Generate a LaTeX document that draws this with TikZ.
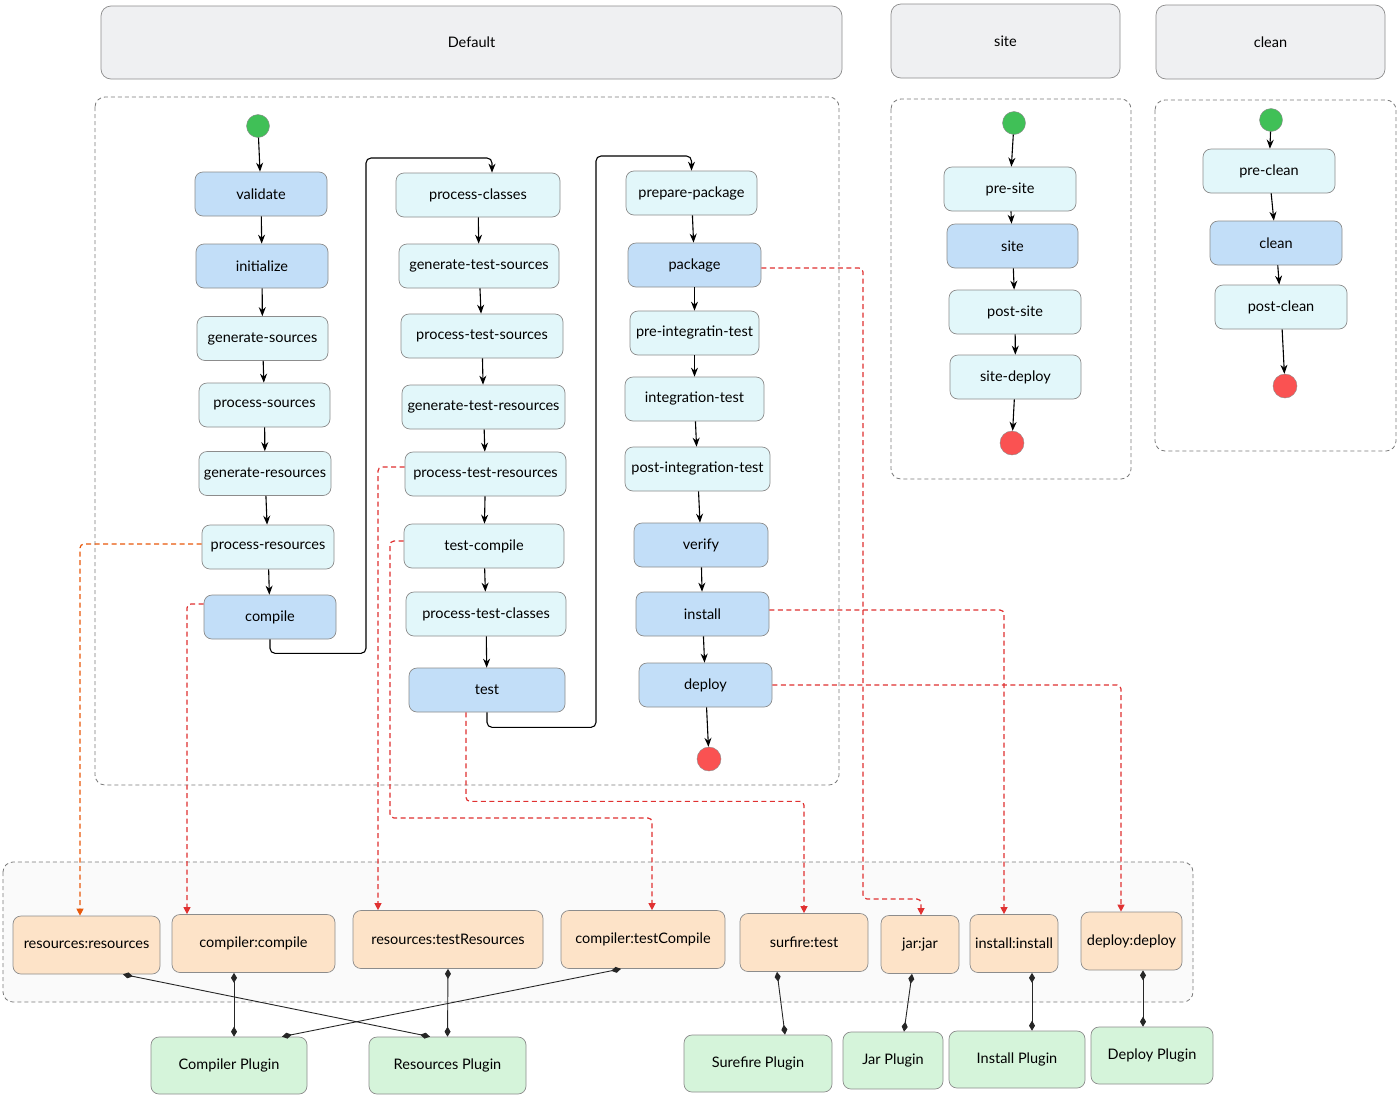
\documentclass[tikz,border=0pt]{standalone}
\usepackage{fontspec}
\setmainfont{Lato}
\usetikzlibrary{arrows.meta,calc}
\definecolor{bluef}{HTML}{C2DEF8}
\definecolor{cyanf}{HTML}{E2F7FA}
\definecolor{orangef}{HTML}{FDE3C8}
\definecolor{greenf}{HTML}{D5F4DA}
\definecolor{grayf}{HTML}{EFF0F2}
\definecolor{boxline}{HTML}{8C8C8C}
\definecolor{grpline}{HTML}{7A7A7A}
\definecolor{startg}{HTML}{40C057}
\definecolor{endr}{HTML}{FA5252}
\definecolor{depred}{HTML}{E03131}
\definecolor{deporange}{HTML}{E8590C}
\begin{document}
\begin{tikzpicture}[x=1pt,y=-1pt,
  base/.style={draw=boxline, rounded corners=8pt, line width=0.7pt, font=\fontsize{14.5}{16}\selectfont, inner sep=2pt, minimum height=44pt},
  phase/.style={base, fill=cyanf},
  core/.style={base, fill=bluef},
  goal/.style={base, fill=orangef, minimum height=58pt},
  plug/.style={base, fill=greenf, minimum height=57pt},
  hdr/.style={base, fill=grayf, rounded corners=10pt},
  grp/.style={draw=grpline, dash pattern=on 4pt off 3pt, rounded corners=10pt, line width=0.8pt},
  startc/.style={circle, draw=boxline, fill=startg, minimum size=23pt, inner sep=0pt},
  endc/.style={circle, draw=boxline, fill=endr, minimum size=24pt, inner sep=0pt},
  flow/.style={-{Stealth[length=9pt,width=7pt]}, line width=1.1pt, black},
  route/.style={flow, rounded corners=5pt},
  dep/.style={-{Triangle[length=7pt,width=7pt]}, dash pattern=on 5pt off 3.5pt, draw=depred, line width=1.2pt, rounded corners=4pt},
  comp/.style={{Diamond[length=10pt,width=6pt]}-{Diamond[length=10pt,width=6pt]}, line width=0.9pt, black!85}
]
\fill[white] (0,0) rectangle (1400,1098);
\useasboundingbox (0,0) rectangle (1400,1098);

% containers
\draw[grp] (95,97) rectangle (839,785);
\draw[grp] (891,99) rectangle (1131,479);
\draw[grp] (1155,100) rectangle (1396,451);
\draw[grp, fill=black!2] (3,862) rectangle (1193,1002);

% headers
\node[hdr, minimum width=741pt, minimum height=73pt] (hdef) at (471.5,42.5) {Default};
\node[hdr, minimum width=229pt, minimum height=74pt] (hsite) at (1005.5,41) {site};
\node[hdr, minimum width=229pt, minimum height=74pt] (hclean) at (1270.5,42) {clean};

% Default column 1
\node[startc] (s1) at (258,126) {};
\node[core, minimum width=132pt] (validate) at (261,194) {validate};
\node[core, minimum width=132pt] (initialize) at (262,266) {initialize};
\node[phase, minimum width=131pt] (gensrc) at (262.5,338.5) {generate-sources};
\node[phase, minimum width=131pt] (procsrc) at (264.5,405) {process-sources};
\node[phase, minimum width=132pt] (genres) at (265,473.5) {generate-resources};
\node[phase, minimum width=132pt] (procres) at (268,547) {process-resources};
\node[core, minimum width=132pt] (compile) at (270,617) {compile};

% Default column 2
\node[phase, minimum width=164pt] (pclasses) at (478,195) {process-classes};
\node[phase, minimum width=160pt] (gts) at (479,266) {generate-test-sources};
\node[phase, minimum width=162pt] (pts) at (482,336) {process-test-sources};
\node[phase, minimum width=163pt] (gtr) at (483.5,407) {generate-test-resources};
\node[phase, minimum width=161pt] (ptr) at (485.5,474) {process-test-resources};
\node[phase, minimum width=160pt] (tcomp) at (484,546) {test-compile};
\node[phase, minimum width=160pt] (ptc) at (486,614) {process-test-classes};
\node[core, minimum width=156pt] (test) at (487,690) {test};

% Default column 3
\node[phase, minimum width=131pt] (prepkg) at (691.5,193) {prepare-package};
\node[core, minimum width=133pt] (package) at (694.5,265) {package};
\node[phase, minimum width=129pt] (preit) at (694.5,333) {pre-integratin-test};
\node[phase, minimum width=139pt] (it) at (694.5,399) {integration-test};
\node[phase, minimum width=145pt] (postit) at (697.5,469) {post-integration-test};
\node[core, minimum width=134pt] (verify) at (701,545) {verify};
\node[core, minimum width=133pt] (install) at (702.5,614) {install};
\node[core, minimum width=133pt] (deploy) at (705.5,685) {deploy};
\node[endc] (e1) at (709,759) {};

% site
\node[startc] (s2) at (1014,123) {};
\node[phase, minimum width=132pt] (presite) at (1010,189) {pre-site};
\node[core, minimum width=131pt] (site) at (1012.5,246) {site};
\node[phase, minimum width=132pt] (postsite) at (1015,312) {post-site};
\node[phase, minimum width=131pt] (sitedeploy) at (1015.5,377) {site-deploy};
\node[endc] (e2) at (1012,443) {};

% clean
\node[startc] (s3) at (1271,120) {};
\node[phase, minimum width=132pt] (preclean) at (1269,171) {pre-clean};
\node[core, minimum width=132pt] (clean) at (1276,243) {clean};
\node[phase, minimum width=132pt] (postclean) at (1281,307) {post-clean};
\node[endc] (e3) at (1285,386) {};

% goals
\node[goal, minimum width=147pt] (gresres) at (86.5,945) {resources:resources};
\node[goal, minimum width=163pt] (gcomp) at (253.5,943.5) {compiler:compile};
\node[goal, minimum width=190pt] (gtres) at (448,939.5) {resources:testResources};
\node[goal, minimum width=164pt] (gtcomp) at (643,939.5) {compiler:testCompile};
\node[goal, minimum width=128pt] (gsure) at (804,942.5) {surfire:test};
\node[goal, minimum width=78pt] (gjar) at (920,944.5) {jar:jar};
\node[goal, minimum width=88pt] (ginst) at (1014,943.5) {install:install};
\node[goal, minimum width=101pt] (gdep) at (1131.5,941) {deploy:deploy};

% plugins
\node[plug, minimum width=156pt] (pcomp) at (229,1065.5) {Compiler Plugin};
\node[plug, minimum width=157pt] (pres) at (447.5,1065.5) {Resources Plugin};
\node[plug, minimum width=148pt] (psure) at (758,1063.5) {Surefire Plugin};
\node[plug, minimum width=100pt] (pjar) at (893,1060.5) {Jar Plugin};
\node[plug, minimum width=136pt] (pinst) at (1017,1059.5) {Install Plugin};
\node[plug, minimum width=122pt] (pdep) at (1152,1055.5) {Deploy Plugin};

% flow column 1
\draw[flow] (s1) -- (validate);
\draw[flow] (validate) -- (initialize);
\draw[flow] (initialize) -- (gensrc);
\draw[flow] (gensrc) -- (procsrc);
\draw[flow] (procsrc) -- (genres);
\draw[flow] (genres) -- (procres);
\draw[flow] (procres) -- (compile);
\draw[route] (compile.south) -- ++(0,14) -| (366,158) -| ([xshift=14pt]pclasses.north);
% flow column 2
\draw[flow] (pclasses) -- (gts);
\draw[flow] (gts) -- (pts);
\draw[flow] (pts) -- (gtr);
\draw[flow] (gtr) -- (ptr);
\draw[flow] (ptr) -- (tcomp);
\draw[flow] (tcomp) -- (ptc);
\draw[flow] (ptc) -- (test);
\draw[route] (test.south) -- ++(0,15) -| (596,156) -| (prepkg.north);
% flow column 3
\draw[flow] (prepkg) -- (package);
\draw[flow] (package) -- (preit);
\draw[flow] (preit) -- (it);
\draw[flow] (it) -- (postit);
\draw[flow] (postit) -- (verify);
\draw[flow] (verify) -- (install);
\draw[flow] (install) -- (deploy);
\draw[flow] (deploy) -- (e1);
% site flow
\draw[flow] (s2) -- (presite);
\draw[flow] (presite) -- (site);
\draw[flow] (site) -- (postsite);
\draw[flow] (postsite) -- (sitedeploy);
\draw[flow] (sitedeploy) -- (e2);
% clean flow
\draw[flow] (s3) -- (preclean);
\draw[flow] (preclean) -- (clean);
\draw[flow] (clean) -- (postclean);
\draw[flow] (postclean) -- (e3);

% bindings
\draw[dep, draw=deporange, -{Triangle[length=7pt,width=7pt,fill=deporange]}] ([yshift=3pt]procres.west) -| ([xshift=-6.5pt]gresres.north);
\draw[dep] ([yshift=13pt]compile.west) -| ([xshift=-66.5pt]gcomp.north);
\draw[dep] ([yshift=7pt]ptr.west) -| ([xshift=-70pt]gtres.north);
\draw[dep] ([yshift=5pt]tcomp.west) -| (390,818) -| ([xshift=9pt]gtcomp.north);
\draw[dep] ([xshift=-21pt]test.south) -- ++(0,89) -| (gsure.north);
\draw[dep] ([yshift=-3pt]package.east) -| (863,899) -| ([xshift=1pt]gjar.north);
\draw[dep] ([yshift=4pt]install.east) -| ([xshift=-10pt]ginst.north);
\draw[dep] (deploy.east) -| ([xshift=-10.5pt]gdep.north);

% compositions
\draw[comp] ([xshift=36.5pt]gresres.south) -- ([xshift=-17.5pt]pres.north);
\draw[comp] ([xshift=-19.5pt]gcomp.south) -- ([xshift=5pt]pcomp.north);
\draw[comp] (gtres.south) -- (pres.north);
\draw[comp] ([xshift=-22pt]gtcomp.south) -- ([xshift=53pt]pcomp.north);
\draw[comp] ([xshift=-27pt]gsure.south) -- ([xshift=27pt]psure.north);
\draw[comp] ([xshift=-8pt]gjar.south) -- ([xshift=11pt]pjar.north);
\draw[comp] ([xshift=18pt]ginst.south) -- ([xshift=15pt]pinst.north);
\draw[comp] ([xshift=11.5pt]gdep.south) -- ([xshift=-9pt]pdep.north);
\end{tikzpicture}
\end{document}
